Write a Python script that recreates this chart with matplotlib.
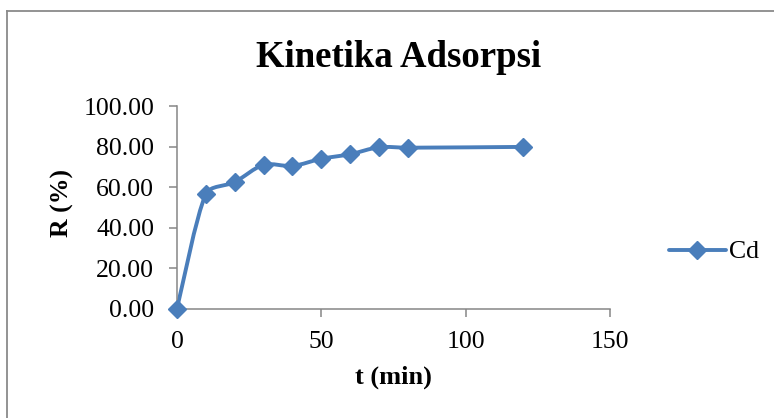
import numpy as np
import matplotlib
matplotlib.use("Agg")
import matplotlib.pyplot as plt
from matplotlib.path import Path
from matplotlib.patches import PathPatch
from matplotlib.lines import Line2D

# contact time (min) vs removal (%) for Cd
t_min = [0, 10, 20, 30, 40, 50, 60, 70, 80, 120]
removal = [0.0, 56.7, 62.6, 71.1, 70.6, 74.1, 76.4, 79.8, 79.6, 80.0]

BLUE = "#4A7EBB"
GRAY = "#868686"

plt.rcParams["font.family"] = ["Liberation Serif", "DejaVu Serif"]


def smooth_path(ax, x, y):
    """Bezier path through the points; tangents shortened next to short segments."""
    p = ax.transData.transform(np.column_stack([x, y]).astype(float))
    n = len(p)
    d = np.linalg.norm(np.diff(p, axis=0), axis=1)
    verts = [p[0]]
    codes = [Path.MOVETO]
    for i in range(n - 1):
        p0 = p[i - 1] if i > 0 else p[i]
        p3 = p[i + 2] if i + 2 < n else p[i + 1]
        d0 = d[i - 1] if i > 0 else d[i]
        d2 = d[i + 1] if i + 1 < n - 1 else d[i]
        k1 = min(d[i] / (d0 + d[i]), 0.5) / 3.0
        k2 = min(d[i] / (d[i] + d2), 0.5) / 3.0
        c1 = p[i] + (p[i + 1] - p0) * k1
        c2 = p[i + 1] - (p3 - p[i]) * k2
        verts += [c1, c2, p[i + 1]]
        codes += [Path.CURVE4] * 3
    verts = ax.transData.inverted().transform(np.array(verts))
    return Path(verts, codes)


fig = plt.figure(figsize=(7.74, 4.18), dpi=100)
ax = fig.add_axes([177 / 774, 1 - 308.5 / 418, (610 - 177) / 774, (308.5 - 106.5) / 418])

ax.set_xlim(0, 150)
ax.set_ylim(0, 100)
ax.set_xticks([0, 50, 100, 150])
ax.set_yticks(np.arange(0, 101, 20))
ax.set_yticklabels([f"{v:.2f}" for v in np.arange(0, 101, 20)])

ax.add_patch(PathPatch(smooth_path(ax, t_min, removal), fill=False, edgecolor=BLUE,
                       lw=2.8, capstyle="round", joinstyle="round", zorder=2))
ax.plot(t_min, removal, ls="none", marker="D", ms=9, color=BLUE,
        mec=BLUE, clip_on=False, zorder=3)

for side in ("top", "right"):
    ax.spines[side].set_visible(False)
for side in ("left", "bottom"):
    ax.spines[side].set_color(GRAY)
    ax.spines[side].set_linewidth(1.1)
ax.tick_params(direction="out", length=5.5, width=1.1, color=GRAY,
               labelsize=18.5, pad=11)

fig.text(398.5 / 774, 1 - 67 / 418, "Kinetika Adsorpsi", fontsize=26.5,
         fontweight="bold", ha="center", va="baseline")
ax.set_xlabel("t (min)", fontsize=19, fontweight="bold")
ax.set_ylabel("R (%)", fontsize=18.5, fontweight="bold")
ax.xaxis.set_label_coords(0.5, -0.285)
ax.yaxis.set_label_coords(-0.238, 0.52)

handle = Line2D([], [], color=BLUE, lw=2.8, marker="D", ms=9, solid_capstyle="round")
fig.legend([handle], ["Cd"], loc="center left", bbox_to_anchor=(669 / 774, 1 - 252 / 418),
           frameon=False, fontsize=18.5, handlelength=2.2, handletextpad=0.15,
           borderpad=0, borderaxespad=0)

# outer chart frame (right and bottom edges fall outside the image)
fig.add_artist(Line2D([6.5 / 774, 6.5 / 774], [0, 1 - 10.5 / 418], color="#8a8a8a",
                      lw=1.3, transform=fig.transFigure))
fig.add_artist(Line2D([6.5 / 774, 1], [1 - 10.5 / 418, 1 - 10.5 / 418], color="#8a8a8a",
                      lw=1.3, transform=fig.transFigure))

fig.savefig("out.png", dpi=100)
